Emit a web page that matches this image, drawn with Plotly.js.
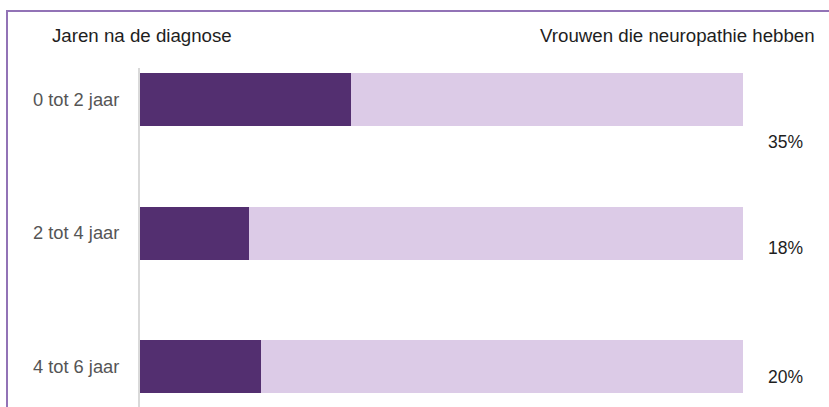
<!DOCTYPE html>
<html>
<head>
<meta charset="utf-8">
<script src="https://cdn.plot.ly/plotly-3.0.1.min.js"></script>
<style>
  html, body { margin: 0; padding: 0; background: #ffffff; }
  #wrap { position: relative; width: 829px; height: 407px; overflow: hidden; }
  #frame { position: absolute; left: 6px; top: 10px; width: 830px; height: 400px;
           border-top: 2px solid #9273b6; border-left: 2px solid #9273b6; box-sizing: border-box; }
  #chart { position: absolute; left: 0; top: 0; width: 829px; height: 407px; }
</style>
</head>
<body>
<div id="wrap">
  <div id="frame"></div>
  <div id="chart"></div>
</div>
<script>
// ---- data ----
const categories = ["0 tot 2 jaar", "2 tot 4 jaar", "4 tot 6 jaar"];
const percentages = [35, 18, 20];
const percentLabels = ["35%", "18%", "20%"];
const leftHeader = "Jaren na de diagnose";
const rightHeader = "Vrouwen die neuropathie hebben";

// ---- styling / layout constants ----
const darkColor = "#532f70";
const lightColor = "#dccbe7";
const labelYShift = [-42, -15, -10]; // pixel offsets of the % labels below bars
const FONT = "Liberation Sans, Arial, sans-serif";

const remainder = percentages.map(v => 100 - v);

const traces = [
  {
    type: "bar", orientation: "h",
    y: categories, x: percentages,
    marker: { color: darkColor },
    hoverinfo: "skip", showlegend: false
  },
  {
    type: "bar", orientation: "h",
    y: categories, x: remainder,
    marker: { color: lightColor },
    hoverinfo: "skip", showlegend: false
  }
];

const annotations = percentLabels.map((t, i) => ({
  text: t, xref: "paper", yref: "y",
  x: 1.0697, y: categories[i],
  xanchor: "center", yanchor: "middle",
  yshift: labelYShift[i],
  showarrow: false,
  font: { family: FONT, size: 17.5, color: "#1e1e1e" }
}));

annotations.push({
  text: leftHeader, xref: "paper", yref: "paper",
  x: -0.1493, y: 1, yshift: 33, xanchor: "left", yanchor: "middle",
  showarrow: false,
  font: { family: FONT, size: 18.7, color: "#1e1e1e" }
});
annotations.push({
  text: rightHeader, xref: "paper", yref: "paper",
  x: 1.1227, y: 1, yshift: 33, xanchor: "right", yanchor: "middle",
  showarrow: false,
  font: { family: FONT, size: 18.7, color: "#1e1e1e" }
});

const layout = {
  width: 829, height: 407,
  margin: { l: 140, r: 86, t: 68, b: 0, pad: 0 },
  paper_bgcolor: "rgba(0,0,0,0)",
  plot_bgcolor: "rgba(0,0,0,0)",
  barmode: "stack",
  bargap: 0.603,
  font: { family: FONT, size: 18, color: "#595959" },
  xaxis: {
    range: [0, 100], showgrid: false, zeroline: false, showline: false,
    showticklabels: false, ticks: "", fixedrange: true
  },
  yaxis: {
    type: "category",
    range: [2.303, -0.236],
    showgrid: false, zeroline: false,
    showline: true, linecolor: "#d9d9d9", linewidth: 2,
    ticks: "", ticklabelstandoff: 15,
    tickfont: { family: FONT, size: 18.3, color: "#555555" },
    fixedrange: true
  },
  annotations: annotations
};

Plotly.newPlot("chart", traces, layout, { displayModeBar: false, staticPlot: true });
</script>
</body>
</html>
